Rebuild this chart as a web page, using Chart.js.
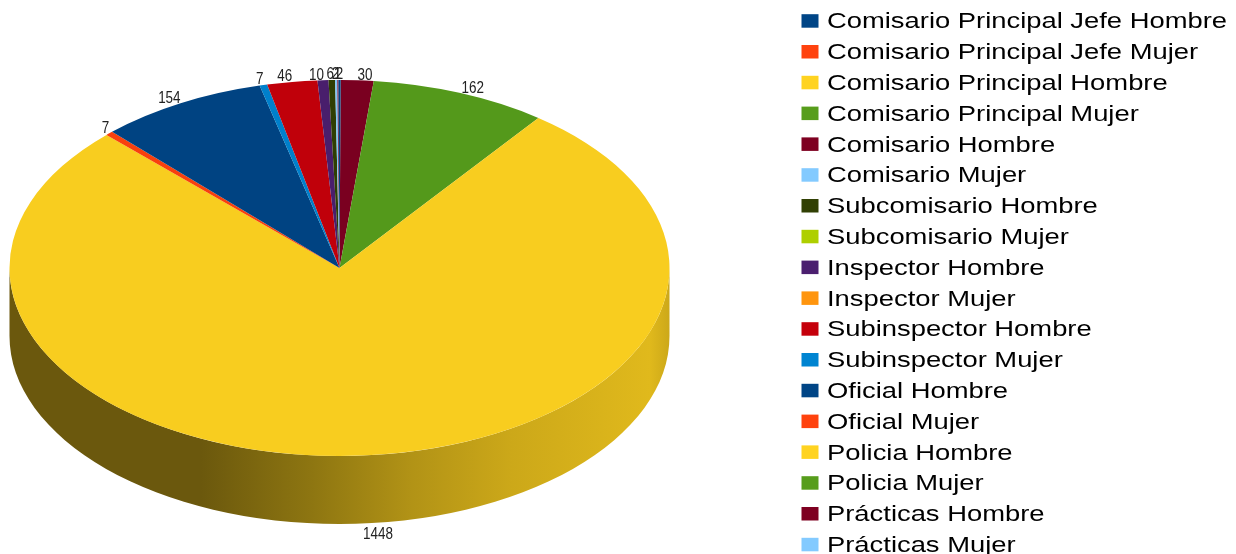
<!DOCTYPE html>
<html><head><meta charset="utf-8">
<style>html,body{margin:0;padding:0;background:#fff;overflow:hidden}canvas{display:block}</style>
<script src="https://cdn.jsdelivr.net/npm/chart.js@4/dist/chart.umd.min.js"></script>
</head><body>
<canvas id="c" width="1236" height="554"></canvas>
<script>
const categories = ["Comisario Principal Jefe Hombre","Comisario Principal Jefe Mujer","Comisario Principal Hombre","Comisario Principal Mujer","Comisario Hombre","Comisario Mujer","Subcomisario Hombre","Subcomisario Mujer","Inspector Hombre","Inspector Mujer","Subinspector Hombre","Subinspector Mujer","Oficial Hombre","Oficial Mujer","Policia Hombre","Policia Mujer","Prácticas Hombre","Prácticas Mujer"];
const values = [2,0,0,0,1,2,6,0,10,0,46,7,154,7,1448,162,30,0];
const colors = ["#004586","#ff420e","#ffd320","#579d1c","#7e0021","#83caff","#314004","#aecf00","#4b1f6f","#ff950e","#c5000b","#0084d1","#004586","#ff420e","#ffd320","#579d1c","#7e0021","#83caff"];

const RADIUS = 330, SQUASH = 188/330, DEPTH = 68;
const wallStops = [[0,.42],[.29,.42],[.46,.56],[.61,.7],[.76,.8],[.97,.88],[1,.8]];

function shade(hex,f){
  const n=parseInt(hex.slice(1),16);
  return `rgb(${((n>>16)&255)*f|0},${((n>>8)&255)*f|0},${(n&255)*f|0})`;
}
const pie3d = {
  id:'pie3d',
  beforeDatasetsDraw(chart){
    const ctx=chart.ctx, arcs=chart.getDatasetMeta(0).data;
    if(!arcs.length) return;
    const cx=arcs[0].x, cy=arcs[0].y, rx=arcs[0].outerRadius, ry=rx*SQUASH;
    const base=colors.slice().reverse();
    arcs.forEach((a,i)=>{
      const s=Math.max(a.startAngle,0), e=Math.min(a.endAngle,Math.PI);
      if(e<=s) return;
      const g=ctx.createLinearGradient(cx-rx,0,cx+rx,0);
      wallStops.forEach(([p,f])=>g.addColorStop(p,shade(base[i],f)));
      ctx.save();
      ctx.beginPath();
      ctx.ellipse(cx,cy,rx,ry,0,s,e);
      ctx.ellipse(cx,cy+DEPTH,rx,ry,0,e,s,true);
      ctx.closePath();
      ctx.fillStyle=g; ctx.fill();
      ctx.restore();
    });
    ctx.save();
    ctx.translate(cx,cy); ctx.scale(1,SQUASH); ctx.translate(-cx,-cy);
  },
  afterDatasetsDraw(chart){
    const ctx=chart.ctx, arcs=chart.getDatasetMeta(0).data;
    if(!arcs.length) return;
    ctx.restore();
    const cx=arcs[0].x, cy=arcs[0].y, rx=arcs[0].outerRadius, ry=rx*SQUASH;
    const ds=chart.data.datasets[0].data;
    ctx.save();
    ctx.font='16px "Liberation Sans"';
    ctx.fillStyle='#222'; ctx.textAlign='center'; ctx.textBaseline='middle';
    arcs.forEach((a,i)=>{
      if(!ds[i]) return;
      const mid=(a.startAngle+a.endAngle)/2, c=Math.cos(mid), sn=Math.sin(mid);
      const txt=String(ds[i]), w=ctx.measureText(txt).width*.84;
      const side=Math.max(-1,Math.min(1,c*17));
      const x=cx+rx*c+side*(w/2+(c>0?1:0));
      const y=cy+ry*sn+(sn>0?DEPTH+11:-5);
      ctx.save(); ctx.translate(x,y); ctx.scale(.84,1); ctx.fillText(txt,0,0); ctx.restore();
    });
    ctx.restore();
  },
  afterDraw(chart){
    const ctx=chart.ctx;
    ctx.save();
    ctx.font='22px "Liberation Sans"';
    ctx.textAlign='left'; ctx.textBaseline='middle';
    categories.forEach((t,i)=>{
      const y=20.7+i*30.8;
      ctx.fillStyle=colors[i];
      ctx.fillRect(801.5,y-6.5,17,13.5);
      ctx.fillStyle='#000';
      ctx.save(); ctx.translate(827,y+1.7); ctx.scale(1.244,1); ctx.fillText(t,0,0); ctx.restore();
    });
    ctx.restore();
  }
};
new Chart(document.getElementById('c'),{
  type:'pie',
  data:{labels:categories.slice().reverse(),datasets:[{data:values.slice().reverse(),backgroundColor:colors.slice().reverse().map(c=>shade(c,.975)),borderWidth:0,clip:false}]},
  options:{
    responsive:false,animation:false,devicePixelRatio:1,
    radius:RADIUS,rotation:0.2,
    layout:{padding:{left:0,top:0,right:557,bottom:18}},
    plugins:{legend:{display:false},tooltip:{enabled:false},title:{display:false}}
  },
  plugins:[pie3d]
});
</script>
</body></html>
